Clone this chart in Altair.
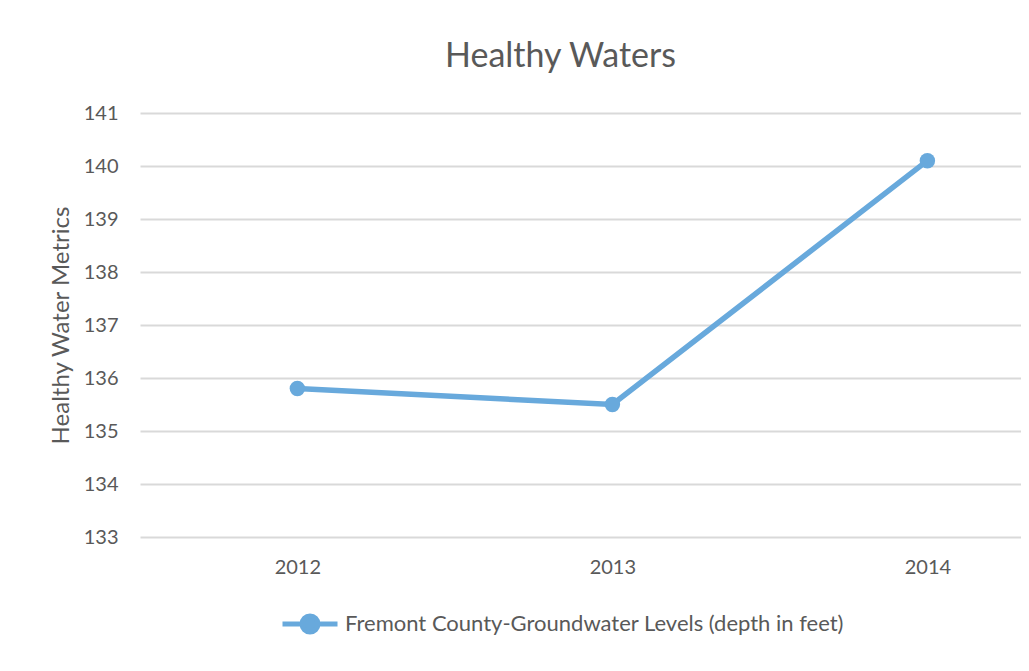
import altair as alt
import pandas as pd

years = ["2012", "2013", "2014"]
values = [135.8, 135.5, 140.1]
series = ["Fremont County-Groundwater Levels (depth in feet)"] * 3

df = pd.DataFrame({"Year": years, "Value": values, "Series": series})

BLUE = "#68a9dc"
TEXT = "#595959"
GRID = "#d9d9d9"
FONT = "Lato"

legend_path = ("M-1,0H1 "
               "M-0.29,0A0.29,0.29 0 1,0 0.29,0A0.29,0.29 0 1,0 -0.29,0Z")

chart = alt.Chart(df).mark_line(
    strokeWidth=5.5,
    point=alt.OverlayMarkDef(filled=True, size=240, color=BLUE),
).encode(
    x=alt.X("Year:N", title=None,
            scale=alt.Scale(type="point", padding=0.3984, align=0.627),
            axis=alt.Axis(labelAngle=0, ticks=False, domain=False, grid=False,
                          labelFontSize=20, labelColor=TEXT, labelFont=FONT,
                          labelPadding=20)),
    y=alt.Y("Value:Q", title="Healthy Water Metrics",
            scale=alt.Scale(domain=[133, 141], nice=False, zero=False),
            axis=alt.Axis(values=list(range(133, 142)), ticks=False, domain=False,
                          gridColor=GRID, gridWidth=2,
                          labelFontSize=20, labelColor=TEXT, labelFont=FONT,
                          labelPadding=22,
                          titleFontSize=24, titleFont=FONT, titleColor=TEXT,
                          titleFontWeight="normal", titlePadding=10)),
    color=alt.Color("Series:N",
                    scale=alt.Scale(range=[BLUE]),
                    legend=alt.Legend(title=None, orient="none",
                                      legendX=140, legendY=481,
                                      symbolType=legend_path, symbolSize=3025,
                                      symbolStrokeWidth=5, symbolStrokeColor=BLUE,
                                      symbolFillColor=BLUE,
                                      labelFontSize=22, labelColor=TEXT,
                                      labelFont=FONT, labelOffset=5,
                                      labelLimit=800)),
).properties(
    width=881,
    height=424,
    background="white",
    title=alt.TitleParams("Healthy Waters", fontSize=34, font=FONT,
                          color=TEXT, fontWeight="normal", anchor="middle",
                          offset=29, dx=-20),
    autosize=alt.AutoSizeParams(type="none"),
    padding={"left": 132, "top": 105, "right": 0, "bottom": 120},
).configure_view(strokeWidth=0, stroke="transparent")

chart.save("out.html", embed_options={"renderer": "svg", "actions": False})
